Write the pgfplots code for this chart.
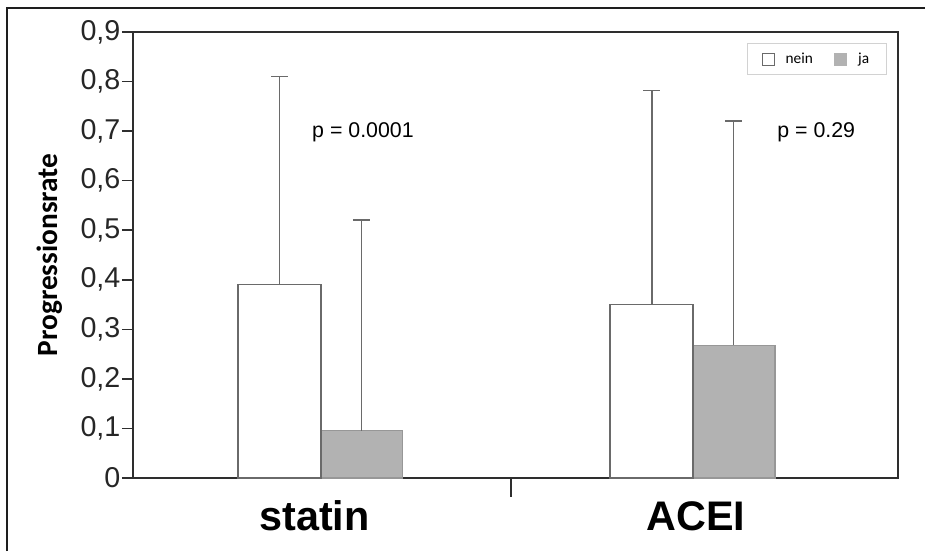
\documentclass[border=0pt]{standalone}
\usepackage{pgfplots}
\pgfplotsset{compat=1.18}
\usepackage{fontspec}
\setmainfont{Liberation Sans}
\newfontfamily\carlito{Carlito}
\definecolor{axisgray}{HTML}{2E2E2E}
\definecolor{bargray}{HTML}{6A6A6A}
\definecolor{jafill}{HTML}{B2B2B2}
\definecolor{framegray}{HTML}{1E1E1E}

\begin{document}
\begin{tikzpicture}
% page area and outer frame
\useasboundingbox (0pt,0pt) rectangle (693.75pt,-413.25pt);
\draw[framegray, line width=1.6pt] (5.25pt,-413.25pt) -- (5.25pt,-6pt) -- (693.75pt,-6pt);

\begin{axis}[
  at={(99.75pt,-358.5pt)}, anchor=south west,
  scale only axis,
  width=573.75pt, height=334.5pt,
  clip=false,
  xmin=0.496, xmax=2.552,
  ymin=0, ymax=0.9,
  axis line style={axisgray, line width=1.4pt},
  xtick=\empty,
  ytick={0,0.1,0.2,0.3,0.4,0.5,0.6,0.7,0.8,0.9},
  yticklabels={0,{0,1},{0,2},{0,3},{0,4},{0,5},{0,6},{0,7},{0,8},{0,9}},
  ytick pos=left,
  tick align=outside,
  major tick length=8.25pt,
  tick style={axisgray, line width=1.2pt},
  yticklabel style={font=\fontsize{21.5}{21.5}\selectfont, inner sep=1pt, text=black!85},
  every axis y label/.style={at={(rel axis cs:-0.1085,0.5)}, rotate=90, anchor=center,
    font=\carlito\bfseries\fontsize{22}{22}\selectfont},
  ylabel={Progressionsrate},
  legend style={at={(rel axis cs:1,1)}, anchor=north east,
    xshift=-8.25pt, yshift=-8.25pt,
    draw=gray!35, line width=0.8pt,
    font=\carlito\fontsize{11.5}{13}\selectfont,
    inner xsep=11pt, inner ysep=5pt},
  legend columns=2,
  legend cell align=left,
  /tikz/every odd column/.append style={column sep=6pt},
  /tikz/every even column/.append style={column sep=14pt},
  legend image code/.code={\draw[#1] (0pt,-4.5pt) rectangle (9pt,4.5pt);},
]
% legend entries
\addlegendimage{draw=bargray, fill=white, line width=0.9pt}
\addlegendentry{nein}
\addlegendimage{draw=jafill, fill=jafill, line width=0.9pt}
\addlegendentry{ja\hspace{7pt}}

% ja bars (mean, upper SD)
\addplot[forget plot, ybar, bar shift=0pt, bar width=0.223,
  draw=jafill!85!black, fill=jafill, line width=0.8pt,
  error bars/.cd, y dir=plus, y explicit,
  error bar style={draw=bargray, line width=1.3pt},
  error mark options={rotate=90, draw=bargray, mark size=6.4pt, line width=1.3pt}]
  coordinates {(1.110,0.095) +- (0,0.425) (2.110,0.268) +- (0,0.452)};

% nein bars (mean, upper SD)
\addplot[forget plot, ybar, bar shift=0pt, bar width=0.223,
  draw=bargray, fill=white, line width=1.1pt,
  error bars/.cd, y dir=plus, y explicit,
  error bar style={draw=bargray, line width=1.3pt},
  error mark options={rotate=90, draw=bargray, mark size=6.4pt, line width=1.3pt}]
  coordinates {(0.890,0.390) +- (0,0.420) (1.890,0.350) +- (0,0.432)};

% separator tick between the two groups
\draw[axisgray, line width=1.2pt] (axis cs:1.512,0) -- ++(0pt,-14pt);

% group names
\node[anchor=base, font=\bfseries\fontsize{31}{31}\selectfont, yshift=-39pt] at (axis cs:0.984,0) {statin};
\node[anchor=base, font=\bfseries\fontsize{31}{31}\selectfont, yshift=-39pt] at (axis cs:2.009,0) {ACEI};

% p values
\node[anchor=base west, inner sep=0pt, font=\fontsize{16}{16}\selectfont] at (axis cs:0.977,0.688) {p = 0.0001};
\node[anchor=base west, inner sep=0pt, font=\fontsize{16}{16}\selectfont] at (axis cs:2.227,0.688) {p = 0.29};
\end{axis}
\end{tikzpicture}
\end{document}
